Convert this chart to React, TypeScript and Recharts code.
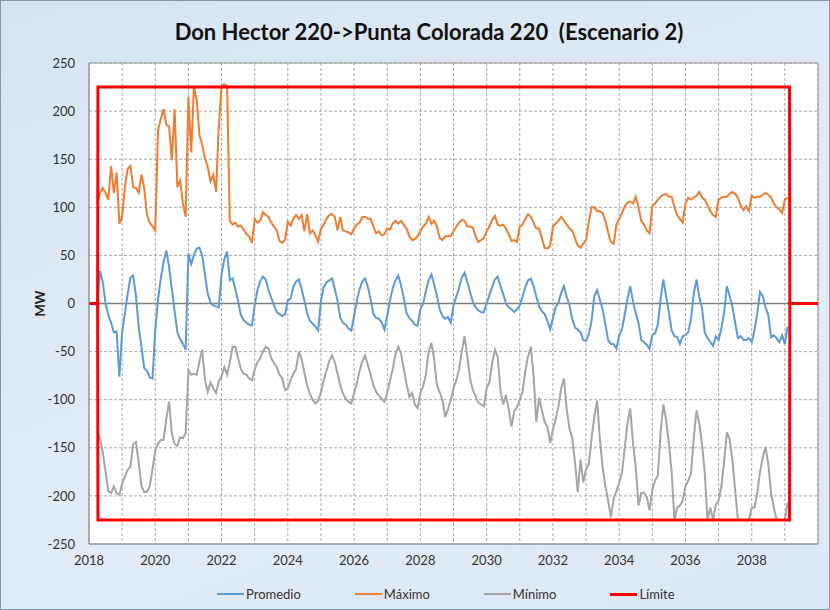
// Flujo Don Hector 220 -> Punta Colorada 220, escenario 2 (MW mensual)
import React from 'react'
import {
  LineChart,
  Line,
  XAxis,
  YAxis,
  CartesianGrid,
  ReferenceLine,
  ReferenceArea,
  Legend,
} from 'recharts'

const FONT = 'Lato, "Open Sans", sans-serif'

// series mensuales, desde abril 2018 (mes 3) hasta febrero 2039
const FIRST_MONTH = 3

const maximo = [
  106, 115, 120, 115, 108, 143, 115, 136, 83, // 2018
  90, 121, 140, 143, 121, 120, 115, 134, 120, 92, 84, 80, // 2019
  76, 180, 192, 202, 186, 184, 149, 202, 121, 128, 104, 90, // 2020
  215, 157, 225, 212, 175, 165, 151, 142, 127, 134, 116, 184, // 2021
  226, 228, 226, 86, 82, 84, 80, 81, 77, 72, 70, 63, // 2022
  88, 84, 86, 95, 92, 90, 84, 80, 76, 65, 63, 66, // 2023
  85, 81, 88, 92, 88, 92, 75, 93, 73, 76, 71, 64, // 2024
  78, 82, 88, 92, 93, 90, 76, 90, 76, 75, 74, 72, // 2025
  78, 82, 84, 90, 90, 88, 88, 80, 73, 75, 71, 72, // 2026
  78, 77, 83, 86, 83, 86, 82, 78, 70, 66, 67, 70, // 2027
  75, 80, 83, 90, 83, 86, 80, 68, 66, 70, 70, 70, // 2028
  75, 80, 84, 87, 86, 80, 80, 79, 70, 64, 66, 68, // 2029
  75, 80, 87, 91, 82, 81, 82, 78, 72, 65, 66, 64, // 2030
  80, 82, 88, 93, 90, 84, 78, 78, 68, 58, 57, 60, // 2031
  80, 83, 86, 90, 86, 82, 78, 76, 68, 60, 58, 62, // 2032
  66, 85, 100, 100, 96, 96, 94, 86, 74, 64, 62, 82, // 2033
  88, 94, 101, 105, 106, 104, 111, 100, 86, 82, 76, 73, // 2034
  101, 104, 108, 111, 113, 114, 111, 111, 100, 92, 88, 84, // 2035
  104, 110, 108, 110, 112, 116, 110, 108, 102, 96, 92, 90, // 2036
  108, 110, 111, 111, 114, 116, 114, 110, 102, 97, 101, 96, // 2037
  112, 110, 111, 111, 113, 115, 113, 110, 104, 100, 98, 94, // 2038
  108, 110, // 2039
]

const promedio = [
  0, 34, 22, 0, -12, -20, -30, -29, -76,
  -30, -10, 10, 27, 29, 8, -24, -45, -67, -70, -77, -78,
  -28, 4, 26, 43, 55, 38, 15, -8, -30, -37, -42, -48,
  52, 41, 50, 57, 58, 50, 30, 10, 1, -2, -3, -4,
  30, 46, 54, 24, 26, 15, 2, -12, -17, -20, -22, -23,
  -2, 14, 23, 28, 25, 14, 6, -2, -9, -11, -13, -11,
  3, 5, 17, 23, 25, 15, 3, -10, -18, -21, -24, -28,
  3, 17, 22, 24, 26, 15, 3, -15, -20, -22, -26, -28,
  -13, 3, 15, 23, 26, 17, 4, -11, -15, -16, -20, -27,
  -13, 3, 16, 24, 29, 19, 6, -10, -15, -18, -22, -23,
  -6, 0, 13, 24, 30, 20, 8, -6, -13, -16, -14, -20,
  -2, 7, 16, 27, 32, 22, 12, 2, -4, -7, -9, -9,
  0, 9, 17, 25, 28, 18, 10, 0, -4, -6, -9, -6,
  -2, 7, 17, 24, 26, 18, 7, -3, -8, -11, -18, -27,
  -15, -4, 1, 11, 18, 7, -2, -16, -25, -27, -30, -38,
  -39, -32, -18, 8, 14, 4, -6, -22, -38, -42, -42, -47,
  -33, -27, -12, 5, 18, 2, -10, -20, -38, -40, -43, -47,
  -33, -31, -22, 5, 25, 7, -9, -28, -34, -35, -42, -34,
  -33, -30, -16, 10, 25, 7, -5, -30, -36, -40, -44, -34,
  -38, -26, -10, 18, 8, -3, -20, -36, -34, -38, -38, -36,
  -40, -28, -10, 12, 8, -4, -12, -35, -33, -36, -40, -33,
  -42, -24,
]

const minimo = [
  -133, -140, -155, -175, -195, -197, -190, -197, -199,
  -187, -180, -173, -170, -146, -144, -165, -190, -196, -196, -190, -172,
  -153, -146, -142, -142, -120, -102, -135, -146, -148, -139, -140, -135,
  -69, -74, -73, -74, -60, -48, -80, -92, -82, -88, -93, -81,
  -76, -66, -74, -61, -45, -45, -57, -68, -73, -74, -78, -80,
  -69, -61, -57, -50, -45, -47, -57, -62, -66, -74, -78, -90,
  -88, -80, -73, -68, -50, -58, -72, -85, -94, -100, -104, -101,
  -92, -80, -70, -60, -54, -61, -73, -85, -94, -99, -102, -104,
  -93, -83, -70, -60, -54, -64, -74, -85, -92, -96, -99, -102,
  -93, -80, -68, -52, -45, -52, -68, -84, -97, -93, -105, -109,
  -93, -86, -74, -50, -41, -58, -85, -92, -100, -118, -110, -100,
  -88, -80, -68, -50, -34, -55, -78, -90, -96, -103, -105, -107,
  -88, -82, -62, -48, -55, -90, -105, -95, -110, -128, -112, -108,
  -100, -92, -70, -55, -45, -75, -123, -98, -111, -123, -128, -145,
  -131, -120, -107, -88, -78, -110, -130, -140, -165, -196, -162, -186,
  -172, -167, -140, -118, -101, -140, -170, -190, -205, -222, -203, -195,
  -186, -176, -150, -125, -109, -145, -170, -210, -197, -197, -201, -215,
  -194, -184, -179, -134, -105, -121, -146, -175, -225, -212, -210, -205,
  -190, -184, -177, -140, -111, -125, -146, -177, -225, -212, -225, -209,
  -205, -190, -165, -134, -141, -163, -194, -225, -225, -225, -225, -225,
  -212, -212, -197, -175, -160, -149, -167, -197, -212, -225, -225, -225,
  -225, -207,
]

// límite de la línea: escalón de 0 a ±225 y vuelta a 0
const limiteT = [2018, 2018.26, 2018.27, 2039.14, 2039.15, 2040]
const limiteSup = [0, 0, 225, 225, 0, 0]
const limiteInf = [0, 0, -225, -225, 0, 0]

const yearTicks = [
  2018, 2019, 2020, 2021, 2022, 2023, 2024, 2025, 2026, 2027, 2028,
  2029, 2030, 2031, 2032, 2033, 2034, 2035, 2036, 2037, 2038, 2039, 2040,
]
const mwTicks = [-250, -200, -150, -100, -50, 0, 50, 100, 150, 200, 250]

const series = [
  { key: 'prom', name: 'Promedio', color: '#5b9bd5', width: 2 },
  { key: 'max', name: 'Máximo', color: '#ed7d31', width: 2 },
  { key: 'min', name: 'Mínimo', color: '#a5a5a5', width: 2 },
  { key: 'up', name: 'Límite', color: '#ff0000', width: 3 },
]

const monthRows = maximo.map((v, i) => ({
  t: 2018 + (i + FIRST_MONTH) / 12,
  prom: promedio[i],
  max: v,
  min: minimo[i],
}))
const limitRows = limiteT.map((t, i) => ({ t, up: limiteSup[i], lo: limiteInf[i] }))
const chartData = [...monthRows, ...limitRows].sort((a, b) => a.t - b.t)

function LegendContent() {
  return (
    <div style={{ display: 'flex', gap: 54, fontFamily: FONT, fontSize: 13, color: '#333' }}>
      {series.map((s) => (
        <span key={s.key} style={{ display: 'flex', alignItems: 'center' }}>
          <span style={{
            display: 'inline-block',
            width: 27,
            height: s.width === 3 ? 3 : 1.5,
            background: s.color,
            marginRight: 2,
          }} />
          {s.name}
        </span>
      ))}
    </div>
  )
}

export default function App() {
  return (
    <div style={{
      position: 'relative',
      width: 830,
      height: 610,
      boxSizing: 'border-box',
      border: '1px solid #8496aa',
      background: 'linear-gradient(160deg, #d6e4f2 0%, #e2ecf7 60%, #dbe7f3 100%)',
    }}>
      <style>{'body{margin:0}'}</style>
      <div style={{
        position: 'absolute',
        top: 17,
        left: 0,
        width: 856,
        textAlign: 'center',
        fontFamily: FONT,
        fontWeight: 700,
        fontSize: 22,
        color: '#111',
        whiteSpace: 'pre',
      }}>
        {'Don Hector 220->Punta Colorada 220  (Escenario 2)'}
      </div>
      <LineChart
        width={828}
        height={608}
        data={chartData}
        margin={{ top: 62, right: 11, bottom: 35, left: 0 }}
        style={{ position: 'absolute', top: 0, left: 0 }}
      >
        <CartesianGrid stroke="#a6a6a6" strokeDasharray="3 2" fill="#ffffff" />
        <XAxis
          type="number"
          dataKey="t"
          domain={[2018, 2040]}
          ticks={yearTicks}
          interval={0}
          tickFormatter={(v: number) => (v % 2 === 0 && v < 2040 ? String(v) : '')}
          tick={{ fontSize: 13, fill: '#333', fontFamily: FONT }}
          tickLine={false}
          tickMargin={6}
          axisLine={{ stroke: '#9a9a9a' }}
          height={30}
        />
        <YAxis
          type="number"
          domain={[-250, 250]}
          ticks={mwTicks}
          interval={0}
          width={88}
          tick={{ fontSize: 13, fill: '#333', fontFamily: FONT }}
          tickLine={false}
          tickMargin={8}
          axisLine={{ stroke: '#9a9a9a' }}
          label={{ value: 'MW', angle: -90, position: 'center', dx: -5, fontSize: 13, fontWeight: 700, fill: '#222', fontFamily: FONT }}
        />
        <ReferenceArea x1={2018} x2={2040} y1={-250} y2={250} fill="none" stroke="#9a9a9a" />
        <ReferenceLine y={0} stroke="#7f7f7f" strokeWidth={1.5} />
        {series.map((s) => (
          <Line
            key={s.key}
            type="linear"
            dataKey={s.key}
            name={s.name}
            stroke={s.color}
            strokeWidth={s.width}
            dot={false}
            connectNulls
            isAnimationActive={false}
          />
        ))}
        <Line type="linear" dataKey="lo" name="Límite inferior" legendType="none" stroke="#ff0000" strokeWidth={3} dot={false} connectNulls isAnimationActive={false} />
        <Legend
          layout="horizontal"
          verticalAlign="middle"
          align="center"
          content={() => <LegendContent />}
          wrapperStyle={{ top: 585, left: 216, width: 'auto' }}
        />
      </LineChart>
    </div>
  )
}
